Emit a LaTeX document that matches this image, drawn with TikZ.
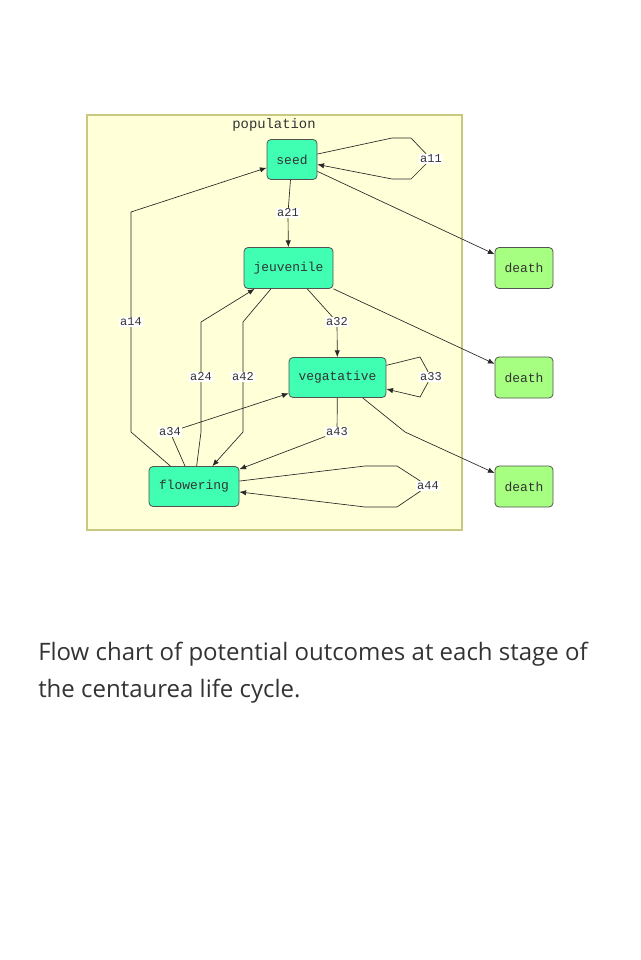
\documentclass[tikz,border=0pt]{standalone}
\usepackage{fontspec}
\setmainfont{Open Sans}
\newfontfamily\monofont{Liberation Mono}
\usetikzlibrary{arrows.meta}
\definecolor{clusterfill}{RGB}{255,255,216}
\definecolor{clusterline}{RGB}{200,200,130}
\definecolor{stagegreen}{RGB}{64,255,178}
\definecolor{deathgreen}{RGB}{166,255,128}
\definecolor{edgegray}{RGB}{40,40,40}
\definecolor{textgray}{RGB}{51,51,51}
\tikzset{
  stagenode/.style={rounded corners=3pt, draw=edgegray!80, line width=0.6pt,
    fill=stagegreen, minimum height=30pt, inner sep=2pt,
    font=\monofont\fontsize{9.7}{11}\selectfont, text=textgray},
  deathnode/.style={stagenode, fill=deathgreen, minimum width=43.5pt, minimum height=30.75pt},
  ratelabel/.style={fill=white, inner sep=0.6pt,
    font=\monofont\fontsize{9}{10}\selectfont, text=textgray},
  flow/.style={-{Latex[length=5pt,width=4pt]}, line width=0.5pt, draw=edgegray},
  plain/.style={line width=0.5pt, draw=edgegray},
}
\begin{document}
\begin{tikzpicture}[x=0.75pt, y=-0.75pt]
      \useasboundingbox (0,0) rectangle (640,960);

      %% ---- population cluster ----
      \node[draw=clusterline, fill=clusterfill, line width=0.9pt,
            minimum width=281.25pt, minimum height=311.25pt] (cluster) at (274.5,322.5) {};
      \node[font=\monofont\fontsize{10.4}{12}\selectfont, text=textgray] (poptitle) at (274,124.5) {population};

      %% ---- stages ----
      \node[stagenode, minimum width=37.5pt] (seed) at (292,159.5) {seed};
      \node[stagenode, minimum width=66.75pt, minimum height=30.75pt] (jeuvenile) at (288.5,268) {jeuvenile};
      \node[stagenode, minimum width=72.75pt] (vegatative) at (337.5,377.5) {vegatative};
      \node[stagenode, minimum width=67.5pt] (flowering) at (194,486.5) {flowering};
      \node[deathnode] (death1) at (524,268) {death};
      \node[deathnode] (death2) at (524,377.5) {death};
      \node[deathnode] (death3) at (524,486.5) {death};

      %% ---- transition labels ----
      \foreach \nm/\px/\py in {11/431/159, 21/288/213, 14/131/322, 32/337/322, 24/201/377,
                               42/243/377, 33/431/377, 34/170/432, 43/337/432, 44/428/486}{
        \node[ratelabel] (l\nm) at (\px,\py) {a\nm};}

      %% ---- transitions ----
      \draw[plain] (seed) -- (392,138) -- (411,138) -- (l11);
      \draw[flow] (l11) -- (411,179) -- (392,179) -- (seed);
      \draw[plain] (seed) -- (l21);
      \draw[flow] (l21) -- (jeuvenile);
      \draw[flow] (seed) -- (death1);
      \draw[plain] (flowering) -- (131,432) -- (l14);
      \draw[flow] (l14) -- (131,212) -- (seed);
      \draw[plain] (flowering) -- (201,432) -- (l24);
      \draw[flow] (l24) -- (201,322) -- (jeuvenile);
      \draw[plain] (jeuvenile) -- (243,322) -- (l42);
      \draw[flow] (l42) -- (243,432) -- (flowering);
      \draw[plain] (jeuvenile) -- (l32);
      \draw[flow] (l32) -- (vegatative);
      \draw[flow] (jeuvenile) -- (death2);
      \draw[plain] (vegatative) -- (420,357) -- (l33);
      \draw[flow] (l33) -- (420,397) -- (vegatative);
      \draw[plain] (flowering) -- (l34);
      \draw[flow] (l34) -- (vegatative);
      \draw[plain] (vegatative) -- (l43);
      \draw[flow] (l43) -- (flowering);
      \draw[flow] (vegatative) -- (405,432) -- (death3);
      \draw[plain] (flowering) -- (365,466) -- (397,466) -- (l44);
      \draw[flow] (l44) -- (397,507) -- (365,507) -- (flowering);

      %% ---- caption ----
      \node[anchor=north west, align=left, inner sep=0pt, text=textgray,
            font=\fontsize{18}{27.75}\selectfont] (caption) at (38,642)
           {Flow chart of potential outcomes at each stage of\\the centaurea life cycle.};
\end{tikzpicture}
\end{document}
